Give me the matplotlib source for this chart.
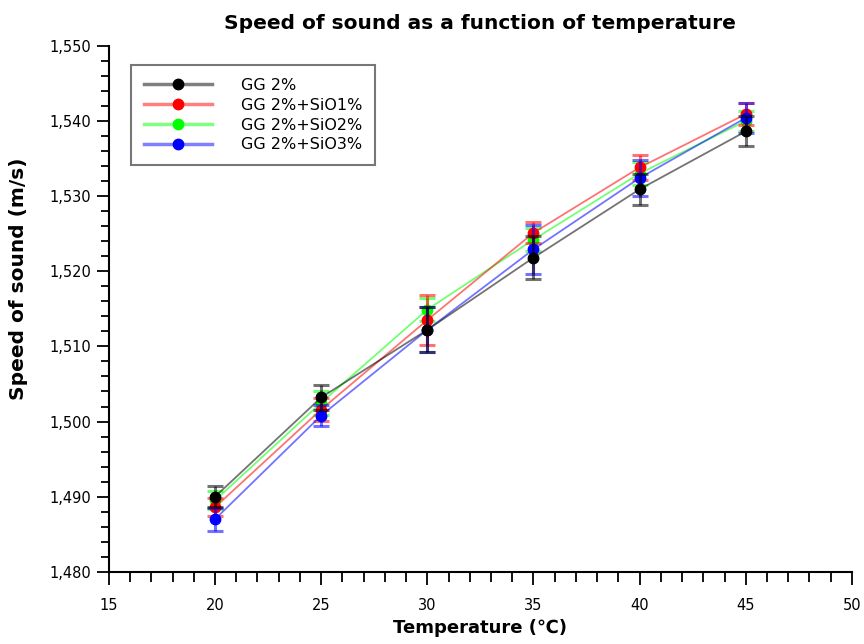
import matplotlib
matplotlib.use("Agg")
import matplotlib.pyplot as plt
from matplotlib.colors import to_rgba
from matplotlib.ticker import MultipleLocator, FuncFormatter

temperature = [20, 25, 30, 35, 40, 45]
series_names = ["GG 2%", "GG 2%+SiO1%", "GG 2%+SiO2%", "GG 2%+SiO3%"]
gg2 = [1490.0, 1503.2, 1512.2, 1521.8, 1530.9, 1538.6]
gg2_err = [1.4, 1.7, 3.0, 2.9, 2.1, 2.0]
sio1 = [1488.6, 1501.6, 1513.5, 1525.1, 1533.8, 1540.9]
sio1_err = [1.2, 1.5, 3.3, 1.4, 1.6, 1.5]
sio2 = [1489.5, 1502.5, 1514.9, 1524.2, 1533.0, 1540.0]
sio2_err = [1.2, 1.6, 1.5, 1.5, 1.5, 1.3]
sio3 = [1487.0, 1500.8, 1512.2, 1522.9, 1532.4, 1540.4]
sio3_err = [1.5, 1.4, 3.0, 3.3, 2.4, 2.0]

values = [gg2, sio1, sio2, sio3]
errors = [gg2_err, sio1_err, sio2_err, sio3_err]
colors = ["#000000", "#ff0000", "#00ff00", "#0000ff"]
zorders = [10, 7, 6, 8]

fig = plt.figure(figsize=(8.64, 6.44), dpi=100)
ax = fig.add_axes([0.126, 0.112, 0.860, 0.817])

for name, v, e, c, z in zip(series_names, values, errors, colors, zorders):
    ax.errorbar(temperature, v, yerr=e, color=c, ecolor=c, elinewidth=2.2,
                capsize=6, capthick=2.2, alpha=0.55, linewidth=1.3, zorder=z)
    ax.plot(temperature, v, color=c, marker="o", markersize=7.5, linestyle="none",
            zorder=z + 0.5)
    ax.plot([], [], color=to_rgba(c, 0.5), linewidth=2.5, marker="o",
            markersize=7.5, markerfacecolor=c, markeredgecolor=c, label=name)

leg = ax.legend(loc="upper left", bbox_to_anchor=(0.019, 0.978), frameon=True,
                fancybox=False, edgecolor="#555555", handlelength=4.3,
                handletextpad=1.8, borderpad=0.8, labelspacing=0.3,
                prop={"family": "DejaVu Sans", "size": 11.5})
leg.get_frame().set_linewidth(1.5)

ax.set_xlim(15, 50)
ax.set_ylim(1480, 1550)
ax.xaxis.set_major_locator(MultipleLocator(5))
ax.xaxis.set_minor_locator(MultipleLocator(1))
ax.yaxis.set_major_locator(MultipleLocator(10))
ax.yaxis.set_minor_locator(MultipleLocator(2))
ax.yaxis.set_major_formatter(FuncFormatter(lambda v, p: f"{int(round(v)):,}"))

ax.spines["top"].set_visible(False)
ax.spines["right"].set_visible(False)
ax.spines["left"].set_linewidth(1.5)
ax.spines["bottom"].set_linewidth(1.5)
ax.tick_params(axis="both", which="major", length=9, width=1.3, labelsize=10.5,
               direction="out")
ax.tick_params(axis="y", which="minor", length=6, width=1.3, direction="out")
ax.tick_params(axis="x", which="minor", length=7, width=1.3, direction="out")
ax.tick_params(axis="x", which="major", pad=10)

ax.set_title("Speed of sound as a function of temperature", fontsize=14.5,
             fontweight="bold", pad=12)
ax.set_xlabel("Temperature (\u2103)", fontsize=13, fontweight="bold", labelpad=4)
ax.set_ylabel("Speed of sound (m/s)", fontsize=14.5, fontweight="bold")
ax.yaxis.set_label_coords(-0.109, 0.557)

fig.savefig("out.png", dpi=100)
